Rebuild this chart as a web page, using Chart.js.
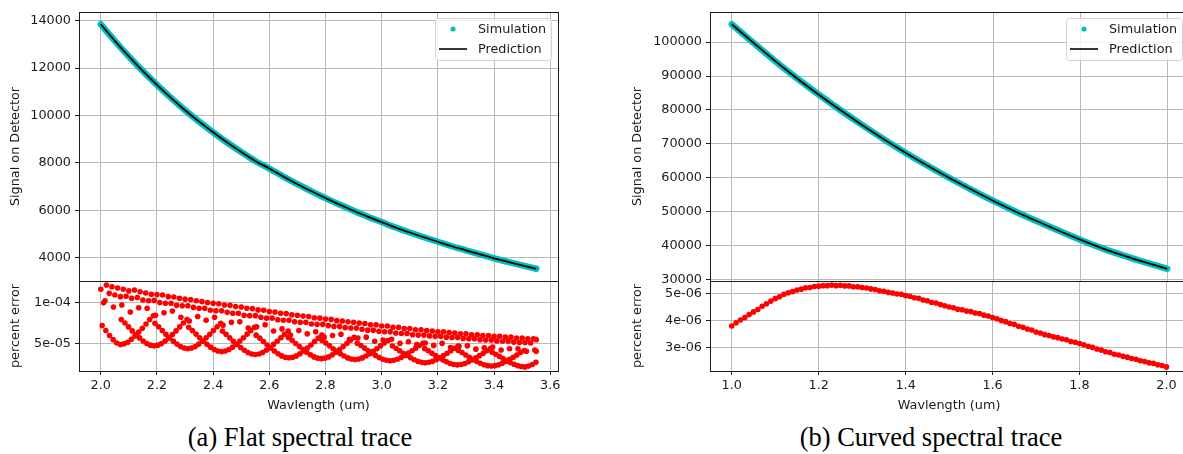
<!DOCTYPE html>
<html lang="en">
<head>
<meta charset="UTF-8">
<title>Flat and curved spectral trace</title>
<script src="https://cdn.jsdelivr.net/npm/chart.js"></script>
<style>
  html, body { margin: 0; padding: 0; background: #fff; }
  body { width: 1183px; height: 454px; position: relative; overflow: hidden; }
  canvas { position: absolute; }
  .caption {
    position: absolute; top: 422px; width: 420px; text-align: center;
    font-family: "Liberation Serif", "DejaVu Serif", serif; font-size: 26.5px; line-height: 30px; color: #000;
  }
</style>
</head>
<body>
<canvas id="flatError" width="564" height="154" style="left:0;top:266px"></canvas>
<canvas id="flatSignalChart" width="564" height="300" style="left:0;top:0"></canvas>
<canvas id="curvedError" width="571" height="154" style="left:620px;top:266px"></canvas>
<canvas id="curvedSignalChart" width="571" height="300" style="left:620px;top:0"></canvas>
<div class="caption" style="left:90px">(a) Flat spectral trace</div>
<div class="caption" style="left:721px">(b) Curved spectral trace</div>

<script>
// ---- data ----
const flatWavelength = [2.00, 2.05, 2.10, 2.15, 2.20, 2.25, 2.30, 2.35, 2.40, 2.45, 2.50, 2.55, 2.60, 2.65, 2.70, 2.75,
  2.80, 2.85, 2.90, 2.95, 3.00, 3.05, 3.10, 3.15, 3.20, 3.25, 3.30, 3.35, 3.40, 3.45, 3.50, 3.55];
const flatSignal = [13850, 13150, 12490, 11870, 11290, 10740, 10220, 9740, 9290, 8860, 8460, 8080, 7760, 7420, 7100, 6800,
  6510, 6240, 5980, 5730, 5500, 5270, 5060, 4860, 4670, 4480, 4310, 4140, 3970, 3820, 3670, 3530];

const curvedWavelength = [1.00, 1.05, 1.10, 1.15, 1.20, 1.25, 1.30, 1.35, 1.40, 1.45, 1.50, 1.55, 1.60, 1.65, 1.70,
  1.75, 1.80, 1.85, 1.90, 1.95, 2.00];
const curvedSignal = [105300, 99800, 94400, 89300, 84500, 79900, 75500, 71300, 67300, 63500, 59900, 56500, 53200,
  50100, 47200, 44400, 41700, 39200, 37000, 35000, 33100];

// percent error, flat trace, in units of 1e-5: [wavelength, error]
const flatErrUnit = 1e-5;
const flatErrUpper = [[2.00,11.6],[2.02,12.1],[2.04,11.9],[2.06,11.75],[2.08,11.6],[2.10,11.4],[2.12,11.5],[2.14,11.3],
  [2.16,11.15],[2.18,11.0],[2.20,10.95],[2.22,10.9],[2.24,10.7],[2.26,10.65],[2.28,10.5],[2.30,10.4],[2.32,10.35],
  [2.34,10.2],[2.36,10.1],[2.38,10.0],[2.40,9.9],[2.42,9.85],[2.44,9.7],[2.46,9.65],[2.48,9.5],[2.50,9.45],[2.52,9.3],
  [2.54,9.25],[2.56,9.1],[2.58,9.05],[2.60,8.9],[2.62,8.85],[2.64,8.7],[2.66,8.65],[2.68,8.5],[2.70,8.45],[2.72,8.35],
  [2.74,8.3],[2.76,8.15],[2.78,8.1],[2.80,8.0],[2.82,7.95],[2.84,7.8],[2.86,7.75],[2.88,7.65],[2.90,7.6],[2.92,7.5],
  [2.94,7.45],[2.96,7.3],[2.98,7.3],[3.00,7.15],[3.02,7.15],[3.04,7.0],[3.06,7.0],[3.08,6.85],[3.10,6.85],[3.12,6.7],
  [3.14,6.7],[3.16,6.6],[3.18,6.55],[3.20,6.45],[3.22,6.45],[3.24,6.35],[3.26,6.3],[3.28,6.2],[3.30,6.2],[3.32,6.1],
  [3.34,6.1],[3.36,6.0],[3.38,6.0],[3.40,5.9],[3.42,5.9],[3.44,5.8],[3.46,5.8],[3.48,5.7],[3.50,5.7],[3.52,5.6],
  [3.54,5.6],[3.55,5.5]];
const flatErrSecond = [[2.01,9.95],[2.03,11.1],[2.05,10.9],[2.07,10.7],[2.09,10.75],[2.11,10.5],[2.13,10.6],[2.15,10.3],
  [2.17,10.2],[2.19,10.25],[2.21,10.0],[2.23,9.9],[2.25,9.9],[2.27,9.65],[2.29,9.6],[2.31,9.6],[2.33,9.4],[2.35,9.3],
  [2.37,9.3],[2.39,9.05],[2.41,9.0],[2.43,9.0],[2.45,8.8],[2.47,8.7],[2.49,8.7],[2.51,8.45],[2.53,8.4],[2.55,8.4],
  [2.57,8.2],[2.59,8.1],[2.61,8.1],[2.63,7.9],[2.65,7.85],[2.67,7.85],[2.69,7.65],[2.71,7.6],[2.73,7.6],[2.75,7.4],
  [2.77,7.35],[2.79,7.35],[2.81,7.2],[2.83,7.1],[2.85,7.1],[2.87,6.95],[2.89,6.9],[2.91,6.9],[2.93,6.75],[2.95,6.65],
  [2.97,6.65],[2.99,6.5],[3.01,6.45],[3.03,6.45],[3.05,6.3],[3.07,6.25],[3.09,6.25],[3.11,6.1],[3.13,6.05],[3.15,6.05],
  [3.17,5.95],[3.19,5.9],[3.21,5.9],[3.23,5.8],[3.25,5.75],[3.27,5.75],[3.29,5.65],[3.31,5.6],[3.33,5.6],[3.35,5.5],
  [3.37,5.45],[3.39,5.45],[3.41,5.35],[3.43,5.3],[3.45,5.3],[3.47,5.2],[3.49,5.15],[3.51,5.15],[3.53,5.1],[3.55,4.1]];
const flatErrThird = [[2.015,10.2],[2.045,9.45],[2.075,9.7],[2.105,8.85],[2.135,9.35],[2.165,9.3],[2.195,8.45],
  [2.225,8.75],[2.255,8.95],[2.285,8.2],[2.315,7.75],[2.345,8.3],[2.375,7.85],[2.405,8.2],[2.435,7.25],[2.465,7.6],
  [2.495,7.65],[2.525,6.9],[2.555,7.05],[2.585,7.3],[2.615,6.55],[2.645,6.8],[2.675,6.05],[2.705,6.6],[2.735,6.2],
  [2.765,6.45],[2.795,5.8],[2.825,6.0],[2.855,6.15],[2.885,5.55],[2.915,5.7],[2.945,5.8],[2.975,5.3],[3.005,5.45],
  [3.035,5.55],[3.065,5.05],[3.095,5.25],[3.125,4.9],[3.155,5.1],[3.185,4.8],[3.215,5.05],[3.245,4.55],[3.275,4.7],
  [3.305,4.75],[3.335,4.35],[3.365,4.5],[3.395,4.6],[3.425,4.25],[3.455,4.4],[3.485,4.4],[3.515,4.1],[3.545,4.25]];
// scalloped arcs under the bands
const flatErrArcs = [
  [2.005,7.2],[2.018,6.6],[2.031,6.0],[2.044,5.5],[2.057,5.1],[2.07,4.9],[2.083,4.99],[2.096,5.19],[2.109,5.54],
  [2.122,5.95],[2.135,6.41],[2.148,6.88],[2.161,7.4],[2.174,7.93],[2.187,8.39],
  [2.073,7.94],[2.086,7.52],[2.099,7.04],[2.112,6.56],[2.125,6.13],[2.138,5.71],[2.151,5.34],[2.164,5.02],[2.177,4.83],
  [2.19,4.75],[2.203,4.83],[2.216,5.02],[2.229,5.34],[2.242,5.71],[2.255,6.13],[2.268,6.56],[2.281,7.04],[2.294,7.52],[2.307,7.94],
  [2.193,7.47],[2.206,7.06],[2.219,6.6],[2.232,6.14],[2.245,5.73],[2.258,5.32],[2.271,4.96],[2.284,4.66],[2.297,4.48],
  [2.31,4.4],[2.323,4.48],[2.336,4.66],[2.349,4.96],[2.362,5.32],[2.375,5.73],[2.388,6.14],[2.401,6.6],[2.414,7.06],[2.427,7.47],
  [2.313,7.0],[2.326,6.61],[2.339,6.17],[2.352,5.72],[2.365,5.33],[2.378,4.94],[2.391,4.59],[2.404,4.3],[2.417,4.12],
  [2.43,4.05],[2.443,4.12],[2.456,4.3],[2.469,4.59],[2.482,4.94],[2.495,5.33],[2.508,5.72],[2.521,6.17],[2.534,6.61],[2.547,7.0],
  [2.433,6.53],[2.446,6.15],[2.459,5.73],[2.472,5.3],[2.485,4.93],[2.498,4.55],[2.511,4.22],[2.524,3.94],[2.537,3.77],
  [2.55,3.7],[2.563,3.77],[2.576,3.94],[2.589,4.22],[2.602,4.55],[2.615,4.93],[2.628,5.3],[2.641,5.73],[2.654,6.15],[2.667,6.53],
  [2.553,6.04],[2.566,5.68],[2.579,5.27],[2.592,4.85],[2.605,4.49],[2.618,4.12],[2.631,3.8],[2.644,3.53],[2.657,3.37],
  [2.67,3.3],[2.683,3.37],[2.696,3.53],[2.709,3.8],[2.722,4.12],[2.735,4.49],[2.748,4.85],[2.761,5.27],[2.774,5.68],[2.787,6.04],
  [2.668,5.77],[2.681,5.43],[2.694,5.04],[2.707,4.66],[2.72,4.31],[2.733,3.97],[2.746,3.67],[2.759,3.41],[2.772,3.26],
  [2.785,3.2],[2.798,3.26],[2.811,3.41],[2.824,3.67],[2.837,3.97],[2.85,4.31],[2.863,4.66],[2.876,5.04],[2.889,5.43],[2.902,5.77],
  [2.788,5.4],[2.801,5.09],[2.814,4.75],[2.827,4.4],[2.84,4.1],[2.853,3.79],[2.866,3.52],[2.879,3.29],[2.892,3.16],
  [2.905,3.1],[2.918,3.16],[2.931,3.29],[2.944,3.52],[2.957,3.79],[2.97,4.1],[2.983,4.4],[2.996,4.75],[3.009,5.09],[3.022,5.4],
  [2.913,5.07],[2.926,4.79],[2.939,4.47],[2.952,4.15],[2.965,3.87],[2.978,3.59],[2.991,3.34],[3.004,3.13],[3.017,3.0],
  [3.03,2.95],[3.043,3.0],[3.056,3.13],[3.069,3.34],[3.082,3.59],[3.095,3.87],[3.108,4.15],[3.121,4.47],[3.134,4.79],[3.147,5.07],
  [3.038,4.73],[3.051,4.46],[3.064,4.16],[3.077,3.85],[3.09,3.58],[3.103,3.31],[3.116,3.07],[3.129,2.87],[3.142,2.75],
  [3.155,2.7],[3.168,2.75],[3.181,2.87],[3.194,3.07],[3.207,3.31],[3.22,3.58],[3.233,3.85],[3.246,4.16],[3.259,4.46],[3.272,4.73],
  [3.153,4.41],[3.166,4.15],[3.179,3.86],[3.192,3.56],[3.205,3.3],[3.218,3.04],[3.231,2.81],[3.244,2.61],[3.257,2.5],
  [3.27,2.45],[3.283,2.5],[3.296,2.61],[3.309,2.81],[3.322,3.04],[3.335,3.3],[3.348,3.56],[3.361,3.86],[3.374,4.15],[3.387,4.41],
  [3.273,4.19],[3.286,3.94],[3.299,3.65],[3.312,3.37],[3.325,3.12],[3.338,2.87],[3.351,2.65],[3.364,2.46],[3.377,2.35],
  [3.39,2.3],[3.403,2.35],[3.416,2.46],[3.429,2.65],[3.442,2.87],[3.455,3.12],[3.468,3.37],[3.481,3.65],[3.494,3.94],[3.507,4.19],
  [3.393,3.98],[3.406,3.74],[3.419,3.48],[3.432,3.21],[3.445,2.97],[3.458,2.73],[3.471,2.53],[3.484,2.35],[3.497,2.25],
  [3.51,2.2],[3.523,2.3],[3.536,2.5],[3.549,2.77]];

// percent error, curved trace, in units of 1e-6
const curvedErrUnit = 1e-6;
const curvedErrWavelength = [1.00,1.01,1.02,1.03,1.04,1.05,1.06,1.07,1.08,1.09,1.10,1.11,1.12,1.13,1.14,1.15,1.16,
  1.17,1.18,1.19,1.20,1.21,1.22,1.23,1.24,1.25,1.26,1.27,1.28,1.29,1.30,1.31,1.32,1.33,1.34,1.35,1.36,1.37,1.38,1.39,
  1.40,1.41,1.42,1.43,1.44,1.45,1.46,1.47,1.48,1.49,1.50,1.51,1.52,1.53,1.54,1.55,1.56,1.57,1.58,1.59,1.60,1.61,1.62,
  1.63,1.64,1.65,1.66,1.67,1.68,1.69,1.70,1.71,1.72,1.73,1.74,1.75,1.76,1.77,1.78,1.79,1.80,1.81,1.82,1.83,1.84,1.85,
  1.86,1.87,1.88,1.89,1.90,1.91,1.92,1.93,1.94,1.95,1.96,1.97,1.98,1.99,2.00];
const curvedErr = [3.81,3.93,4.03,4.12,4.23,4.33,4.42,4.54,4.63,4.73,
  4.82,4.89,4.98,5.04,5.08,5.14,5.17,5.22,5.23,5.27,
  5.28,5.30,5.30,5.32,5.30,5.31,5.29,5.29,5.26,5.26,
  5.23,5.21,5.18,5.16,5.11,5.09,5.05,5.03,4.99,4.98,
  4.93,4.91,4.85,4.83,4.77,4.74,4.68,4.66,4.60,4.56,
  4.51,4.48,4.43,4.41,4.36,4.34,4.29,4.27,4.21,4.18,
  4.12,4.08,4.01,3.97,3.90,3.87,3.80,3.76,3.70,3.66,
  3.59,3.55,3.49,3.46,3.41,3.38,3.33,3.30,3.24,3.21,
  3.16,3.12,3.06,3.02,2.96,2.92,2.86,2.83,2.77,2.74,
  2.69,2.66,2.61,2.58,2.53,2.50,2.45,2.43,2.38,2.35,
  2.30];

// tick values and labels
const flatWaveTicks = [2.0, 2.2, 2.4, 2.6, 2.8, 3.0, 3.2, 3.4, 3.6];
const flatWaveLabels = ['2.0', '2.2', '2.4', '2.6', '2.8', '3.0', '3.2', '3.4', '3.6'];
const curvedWaveTicks = [1.0, 1.2, 1.4, 1.6, 1.8, 2.0];
const curvedWaveLabels = ['1.0', '1.2', '1.4', '1.6', '1.8', '2.0'];
const flatSignalTicks = [4000, 6000, 8000, 10000, 12000, 14000];
const curvedSignalTicks = [30000, 40000, 50000, 60000, 70000, 80000, 90000, 100000];
const flatErrTicks = [5e-5, 1e-4];
const flatErrLabels = ['5e-05', '1e-04'];
const curvedErrTicks = [3e-6, 4e-6, 5e-6];
const curvedErrLabels = ['3e-06', '4e-06', '5e-06'];

// ---- styling ----
const FONT = "'DejaVu Sans', 'Liberation Sans', sans-serif";
const FONT_SIZE = 12.8;
const ink = '#1a1a1a';
const gridColor = '#b9b9b9';
const cyan = '#00bfbf';
const red = '#ff0000';

Chart.defaults.font.family = FONT;
Chart.defaults.font.size = FONT_SIZE;
Chart.defaults.color = ink;

// matplotlib-like 5% margins around the data
function padded(values) {
  const lo = Math.min(...values), hi = Math.max(...values), m = (hi - lo) * 0.05;
  return { min: lo - m, max: hi + m };
}

const framePlugin = {
  id: 'frame',
  afterDatasetsDraw(chart) {
    const { ctx, chartArea: a } = chart;
    ctx.save();
    ctx.strokeStyle = ink;
    ctx.lineWidth = 1;
    ctx.strokeRect(Math.round(a.left) + 0.5, Math.round(a.top) + 0.5,
      Math.round(a.right - a.left), Math.round(a.bottom - a.top));
    ctx.restore();
  }
};

const boxLegend = {
  id: 'boxLegend',
  afterDraw(chart, args, opts) {
    if (!opts.display) return;
    const { ctx, chartArea: a } = chart;
    const w = 116, h = 42;
    const x0 = Math.round(a.right) - 7 - w, y0 = Math.round(a.top) + 6;
    ctx.save();
    ctx.beginPath();
    ctx.roundRect(x0 + 0.5, y0 + 0.5, w, h, 3);
    ctx.fillStyle = 'rgba(255,255,255,0.8)';
    ctx.fill();
    ctx.strokeStyle = '#d4d4d4';
    ctx.lineWidth = 1;
    ctx.stroke();
    ctx.font = FONT_SIZE + 'px ' + FONT;
    ctx.textBaseline = 'middle';
    chart.data.datasets.forEach((ds, i) => {
      const cy = y0 + 11 + i * 20;
      if (ds.legendMarker === 'dot') {
        ctx.beginPath();
        ctx.arc(x0 + 18, cy, 2.6, 0, Math.PI * 2);
        ctx.fillStyle = ds.legendColor;
        ctx.fill();
      } else {
        ctx.beginPath();
        ctx.moveTo(x0 + 4, cy);
        ctx.lineTo(x0 + 32, cy);
        ctx.strokeStyle = ds.legendColor;
        ctx.lineWidth = 1.6;
        ctx.stroke();
      }
      ctx.fillStyle = ink;
      ctx.fillText(ds.label, x0 + 43, cy + 1);
    });
    ctx.restore();
  }
};

function xAxis(range, ticks, labels, showLabels, height) {
  return {
    type: 'linear', min: range.min, max: range.max,
    afterBuildTicks: s => { s.ticks = ticks.map(v => ({ value: v })); },
    afterFit: s => { s.height = height; },
    border: { display: false },
    grid: { color: gridColor, lineWidth: 1, drawTicks: showLabels, tickLength: 4, tickColor: ink },
    ticks: { display: true, padding: 3, autoSkip: false, maxRotation: 0,
      color: showLabels ? ink : 'rgba(0,0,0,0)',
      callback: (v, i) => showLabels ? labels[i] : '' },
    title: { display: showLabels, text: 'Wavlength (um)', color: ink, padding: { top: 0, bottom: 7 } }
  };
}

function yAxis(range, ticks, labels, title, width, titlePad) {
  return {
    type: 'linear', min: range.min, max: range.max,
    afterBuildTicks: s => { s.ticks = ticks.map(v => ({ value: v })); },
    afterFit: s => { s.width = width; },
    border: { display: false },
    grid: { color: gridColor, lineWidth: 1, tickLength: 4, tickColor: ink },
    ticks: { padding: 4, autoSkip: false, color: ink, callback: (v, i) => labels[i] },
    title: { display: true, text: title, color: ink, padding: { top: titlePad, bottom: 0 } }
  };
}

function signalChart(id, wave, signal, waveTicks, yTicks, yWidth, titlePad, padRight) {
  const pts = wave.map((x, i) => ({ x, y: signal[i] }));
  new Chart(document.getElementById(id), {
    type: 'line',
    data: {
      datasets: [
        { label: 'Simulation', data: pts, borderColor: cyan, borderWidth: 6.5, pointRadius: 0,
          cubicInterpolationMode: 'monotone', borderCapStyle: 'round', order: 2,
          legendMarker: 'dot', legendColor: cyan },
        { label: 'Prediction', data: pts, borderColor: '#000', borderWidth: 1.8, pointRadius: 0,
          cubicInterpolationMode: 'monotone', order: 1,
          legendMarker: 'line', legendColor: '#000' }
      ]
    },
    options: {
      responsive: false, animation: false, events: [],
      layout: { padding: { left: 0, top: 12, right: padRight, bottom: 0 } },
      scales: {
        x: xAxis(padded(wave), waveTicks, [], false, 19),
        y: yAxis(padded(signal), yTicks, yTicks.map(String), 'Signal on Detector', yWidth, titlePad)
      },
      plugins: { legend: { display: false }, tooltip: { enabled: false }, boxLegend: { display: true } }
    },
    plugins: [framePlugin, boxLegend]
  });
}

function errorChart(id, pts, waveRange, waveTicks, waveLabels, errTicks, errLabels, yWidth, titlePad, padRight) {
  new Chart(document.getElementById(id), {
    type: 'scatter',
    data: {
      datasets: [{ label: 'percent error', data: pts, backgroundColor: red, borderWidth: 0,
        pointRadius: 2.8, pointHoverRadius: 2.8 }]
    },
    options: {
      responsive: false, animation: false, events: [],
      layout: { padding: { left: 0, top: 15, right: padRight, bottom: 0 } },
      scales: {
        x: xAxis(waveRange, waveTicks, waveLabels, true, 49),
        y: yAxis(padded(pts.map(p => p.y)), errTicks, errLabels, 'percent error', yWidth, titlePad)
      },
      plugins: { legend: { display: false }, tooltip: { enabled: false }, boxLegend: { display: false } }
    },
    plugins: [framePlugin]
  });
}

// (a) flat spectral trace
signalChart('flatSignalChart', flatWavelength, flatSignal, flatWaveTicks, flatSignalTicks, 79, 8, 6);
const flatErrPts = flatErrUpper.concat(flatErrSecond, flatErrThird, flatErrArcs)
  .map(p => ({ x: p[0], y: p[1] * flatErrUnit }));
errorChart('flatError', flatErrPts, padded(flatWavelength), flatWaveTicks, flatWaveLabels,
  flatErrTicks, flatErrLabels, 79, 8, 6);

// (b) curved spectral trace
signalChart('curvedSignalChart', curvedWavelength, curvedSignal, curvedWaveTicks, curvedSignalTicks, 90, 10, 2);
const curvedErrPts = curvedErrWavelength.map((x, i) => ({ x, y: curvedErr[i] * curvedErrUnit }));
errorChart('curvedError', curvedErrPts, padded(curvedWavelength), curvedWaveTicks, curvedWaveLabels,
  curvedErrTicks, curvedErrLabels, 90, 10, 2);
</script>
</body>
</html>
